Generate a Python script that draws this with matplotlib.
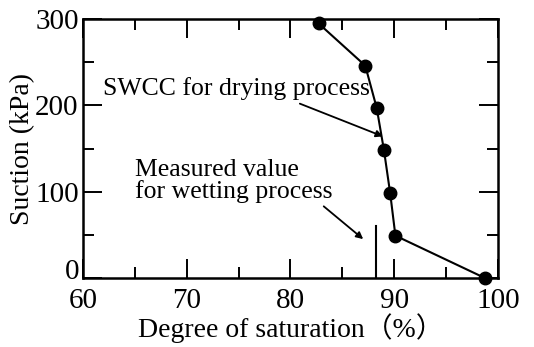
import matplotlib
matplotlib.use("Agg")
import matplotlib.pyplot as plt
from matplotlib.ticker import MultipleLocator

# drying-path SWCC points
saturation = [82.7, 87.2, 88.3, 89.0, 89.6, 90.1, 98.7]
suction = [295, 246, 197, 148, 98, 49, 0]

# measured value during wetting
wet_sat = 88.25
wet_suction_top = 60

y_ticks = [0, 100, 200, 300]

plt.rcParams['font.family'] = ['Liberation Serif', 'Noto Sans CJK JP']
plt.rcParams['font.size'] = 20

fig = plt.figure(figsize=(5.34, 3.47), dpi=100)
ax = fig.add_axes([0.155, 0.199, 0.778, 0.746])

ax.plot(saturation, suction, color='black', lw=1.5, marker='o', ms=9,
        clip_on=False, zorder=3)
ax.plot([wet_sat, wet_sat], [0, wet_suction_top], color='black', lw=1.5)

ax.annotate('', xy=(88.9, 164), xytext=(80.9, 202),
            arrowprops=dict(arrowstyle='-|>', color='black', lw=1.3,
                            mutation_scale=10, shrinkA=0, shrinkB=0))
ax.annotate('', xy=(87.0, 45), xytext=(83.2, 83),
            arrowprops=dict(arrowstyle='-|>', color='black', lw=1.3,
                            mutation_scale=10, shrinkA=0, shrinkB=0))

ax.text(61.9, 219, 'SWCC for drying process', fontsize=18.5, va='center')
ax.text(65.0, 112, 'Measured value\nfor wetting process', fontsize=18.5,
        va='center', linespacing=0.95)

ax.set_xlim(60, 100)
ax.set_ylim(0, 300)
ax.xaxis.set_major_locator(MultipleLocator(10))
ax.xaxis.set_minor_locator(MultipleLocator(5))
# the "0" is drawn by hand a bit higher so it clears the "60" below it
ax.set_yticks(y_ticks, labels=[''] + [str(v) for v in y_ticks[1:]])
ax.yaxis.set_minor_locator(MultipleLocator(50))
ax.annotate(str(y_ticks[0]), xy=(60, y_ticks[0]), xytext=(-2.5, 4),
            textcoords='offset points', ha='right', va='center', fontsize=21)
ax.tick_params(which='both', direction='in', top=True, right=True, width=1.4,
               labelsize=21)
ax.tick_params(which='major', length=14, pad=3)
ax.tick_params(axis='x', which='major', pad=7)
ax.tick_params(which='minor', length=8)
for s in ax.spines.values():
    s.set_linewidth(1.8)

ax.set_xlabel('Degree of saturation（%）', labelpad=0)
ax.set_ylabel('Suction (kPa)', labelpad=0)

fig.savefig('out.png', dpi=100)
